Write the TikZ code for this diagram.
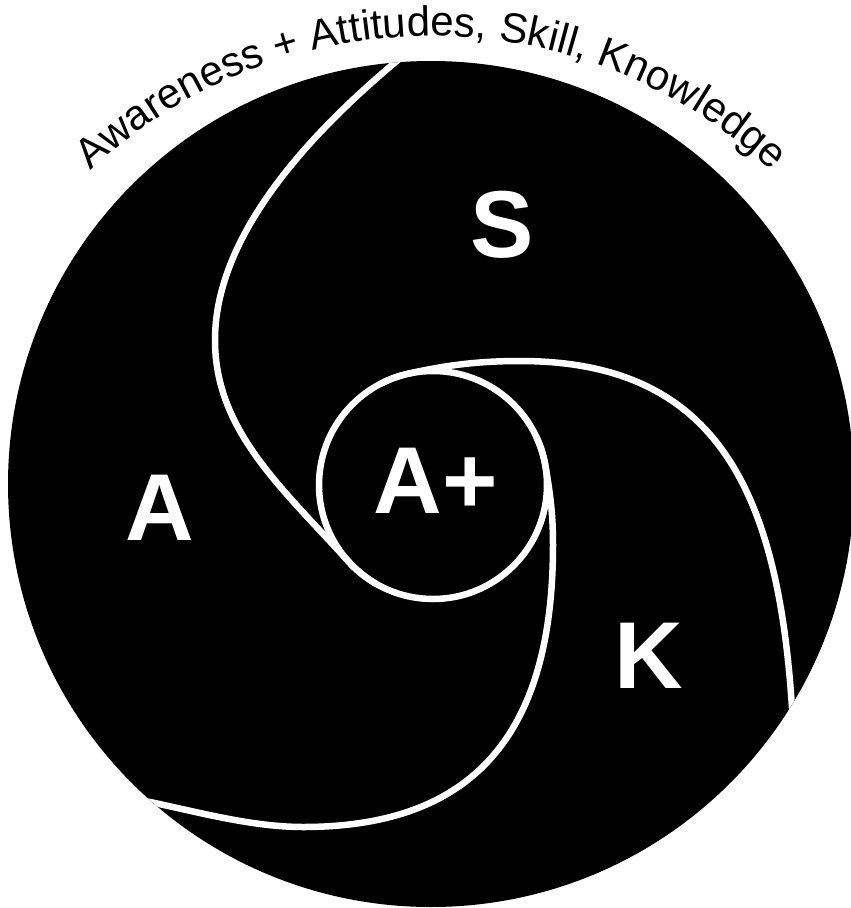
\documentclass[tikz,border=0pt]{standalone}
\usepackage{fontspec}
\setmainfont{Liberation Sans}
\usetikzlibrary{decorations.text}

\tikzset{
  divider/.style={white, line width=6.5pt},
  region/.style={white, anchor=base, font=\fontsize{95}{95}\selectfont\bfseries},
}

\begin{document}
\begin{tikzpicture}[x=1pt, y=1pt]
  \useasboundingbox (0,-908) rectangle (851,0);
  \coordinate (O) at (431,-484);
  \coordinate (core) at (433,-485);
  \coordinate (rim) at (431,-534);

  % title round the top
  \path[decorate, decoration={text along path, text align=center,
      text={|\fontsize{42}{42}\selectfont|Awareness + Attitudes, Skill, Knowledge}}]
    (rim) ++(140:498) arc[start angle=140, end angle=40, radius=498];

  \fill[black] (O) circle[radius=423];

  % the three spiral dividers, each running into the core
  \begin{scope}
    \clip (O) circle[radius=423];
    \draw[divider] (404,-55) .. controls (319,-125) and (215,-230) .. (215,-340)
      .. controls (215,-430) and (281,-487) .. (348.3,-561.3)
      arc[start angle=222, end angle=240, radius=114];
    \draw[divider] (793,-725) .. controls (781,-495) and (720,-361) .. (520,-361)
      .. controls (480,-361) and (446.4,-364.9) .. (407.4,-373.9)
      arc[start angle=103, end angle=118, radius=114];
    \draw[divider] (140,-800) .. controls (189,-809.5) and (248,-827) .. (303,-827)
      .. controls (473,-827) and (553,-735) .. (553,-545)
      .. controls (553,-515) and (550.5,-494.8) .. (545.3,-465.2)
      arc[start angle=10, end angle=25, radius=114];
  \end{scope}
  \draw[divider] (core) circle[radius=114];

  \node[region] (skill) at (502,-257) {S};
  \node[region] (attitude) at (160,-540) {A};
  \node[region] (awareness) at (436,-513) {A+};
  \node[region] (knowledge) at (649,-688) {K};
\end{tikzpicture}
\end{document}
